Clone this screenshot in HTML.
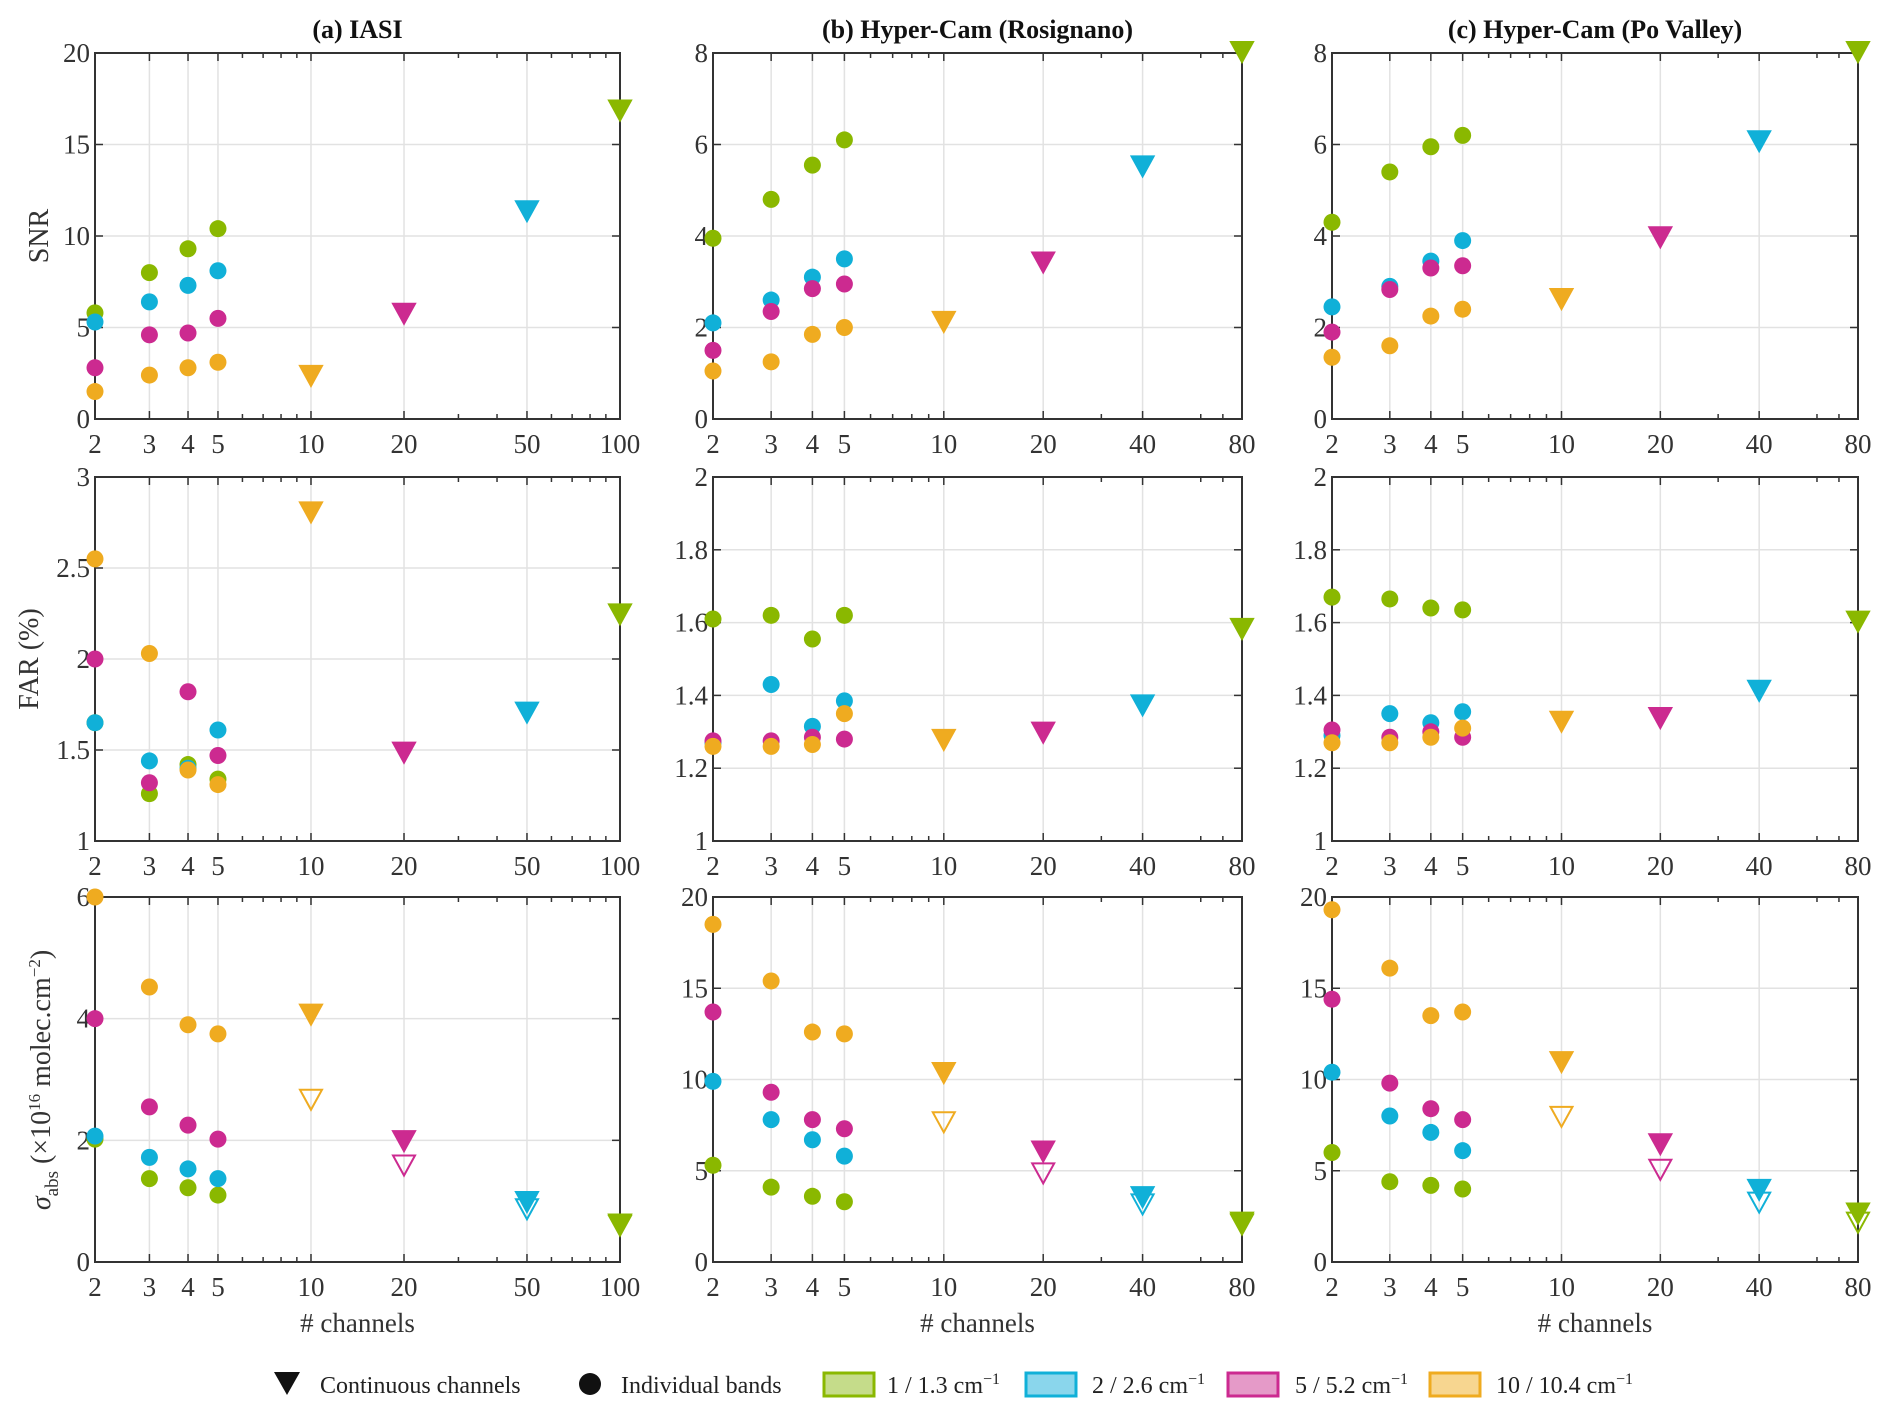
<!DOCTYPE html>
<html><head><meta charset="utf-8"><style>
html,body{margin:0;padding:0;background:#fff;}
svg{display:block;font-family:"Liberation Serif",serif;}
</style></head><body>
<svg id="fig" width="1892" height="1419" viewBox="0 0 1892 1419" xmlns="http://www.w3.org/2000/svg"></svg>
<script>
const NS="http://www.w3.org/2000/svg";
const colors=["#8ab800","#10b0d8","#cc2a90","#efab20"]; // green, cyan, magenta, orange
const bandX=[2,3,4,5];
const contXa=[100,50,20,10];
const contXbc=[80,40,20,10];
const snrA=[[5.8,8,9.3,10.4],[5.3,6.4,7.3,8.1],[2.8,4.6,4.7,5.5],[1.5,2.4,2.8,3.1]];
const snrAc=[16.8,11.3,5.7,2.3];
const snrB=[[3.95,4.8,5.55,6.1],[2.1,2.6,3.1,3.5],[1.5,2.35,2.85,2.95],[1.05,1.25,1.85,2.0]];
const snrBc=[8.0,5.5,3.4,2.1];
const snrC=[[4.3,5.4,5.95,6.2],[2.45,2.9,3.45,3.9],[1.9,2.83,3.3,3.35],[1.35,1.6,2.25,2.4]];
const snrCc=[8.0,6.05,3.95,2.6];
const farA=[[1.65,1.26,1.42,1.34],[1.65,1.44,1.4,1.61],[2.0,1.32,1.82,1.47],[2.55,2.03,1.39,1.31]];
const farAc=[2.24,1.7,1.48,2.8];
const farB=[[1.61,1.62,1.555,1.62],[1.27,1.43,1.315,1.385],[1.275,1.275,1.285,1.28],[1.26,1.26,1.265,1.35]];
const farBc=[1.58,1.37,1.295,1.275];
const farC=[[1.67,1.665,1.64,1.635],[1.29,1.35,1.325,1.355],[1.305,1.285,1.3,1.285],[1.27,1.27,1.285,1.31]];
const farCc=[1.6,1.41,1.335,1.325];
const sigA=[[2.02,1.37,1.22,1.1],[2.07,1.72,1.53,1.37],[4.0,2.55,2.25,2.02],[6.0,4.52,3.9,3.75]];
const sigAc=[0.6,0.97,1.97,4.05];
const sigAo=[0.58,0.85,1.57,2.65];
const sigB=[[5.3,4.1,3.6,3.3],[9.9,7.8,6.7,5.8],[13.7,9.3,7.8,7.3],[18.5,15.4,12.6,12.5]];
const sigBc=[2.1,3.5,6.0,10.3];
const sigBo=[2.0,3.1,4.8,7.6];
const sigC=[[6.0,4.4,4.2,4.0],[10.4,8.0,7.1,6.1],[14.4,9.8,8.4,7.8],[19.3,16.1,13.5,13.7]];
const sigCc=[2.6,3.9,6.4,10.9];
const sigCo=[2.1,3.2,5.0,7.9];
const ticksSnrA=[0,5,10,15,20], ticksSnrBC=[0,2,4,6,8];
const ticksFarA=[1,1.5,2,2.5,3], ticksFarBC=[1,1.2,1.4,1.6,1.8,2];
const ticksSigA=[0,2,4,6], ticksSigBC=[0,5,10,15,20];
const xTicksA=[2,3,4,5,10,20,50,100], xTicksBC=[2,3,4,5,10,20,40,80];
const titles=["(a) IASI","(b) Hyper-Cam (Rosignano)","(c) Hyper-Cam (Po Valley)"];

const svg=document.getElementById('fig');
function el(tag,attrs,parent){const e=document.createElementNS(NS,tag);for(const k in attrs)e.setAttribute(k,attrs[k]);(parent||svg).appendChild(e);return e;}
const cols=[[95,620],[713,1242],[1332,1858]];
const rows=[[53,419],[477,841],[897,1262]];

function panel(ci,ri,xmax,xt,yt,circ,cont,open,contX){
  const [x0,x1]=cols[ci],[y0,y1]=rows[ri];
  const ymin=yt[0],ymax=yt[yt.length-1];
  const X=v=>x0+(Math.log(v)-Math.log(2))/(Math.log(xmax)-Math.log(2))*(x1-x0);
  const Y=v=>y1-(v-ymin)/(ymax-ymin)*(y1-y0);
  const g=el('g',{});
  
  
  el('rect',{x:x0,y:y0,width:x1-x0,height:y1-y0,fill:'#fff'},g);
  xt.forEach(v=>{el('line',{x1:X(v),x2:X(v),y1:y0,y2:y1,stroke:'#e2e2e2','stroke-width':1.5},g);});
  yt.forEach(v=>{el('line',{x1:x0,x2:x1,y1:Y(v),y2:Y(v),stroke:'#e2e2e2','stroke-width':1.5},g);});
  const minors=[6,7,8,9,30,40,60,70,80,90].filter(v=>v<xmax&&xt.indexOf(v)<0);
  minors.forEach(v=>{el('line',{x1:X(v),x2:X(v),y1:y1,y2:y1-5,stroke:'#333','stroke-width':1.5},g);el('line',{x1:X(v),x2:X(v),y1:y0,y2:y0+5,stroke:'#333','stroke-width':1.5},g);});
  xt.forEach(v=>{el('line',{x1:X(v),x2:X(v),y1:y1,y2:y1-8,stroke:'#333','stroke-width':1.5},g);el('line',{x1:X(v),x2:X(v),y1:y0,y2:y0+8,stroke:'#333','stroke-width':1.5},g);
    const t=el('text',{x:X(v),y:y1+34,'text-anchor':'middle','font-size':27,fill:'#333'},g);t.textContent=v;
    });
  yt.forEach(v=>{el('line',{x1:x0,x2:x0+8,y1:Y(v),y2:Y(v),stroke:'#333','stroke-width':1.5},g);el('line',{x1:x1,x2:x1-8,y1:Y(v),y2:Y(v),stroke:'#333','stroke-width':1.5},g);
    const t=el('text',{x:x0-5,y:Y(v)+9,'text-anchor':'end','font-size':27,fill:'#333'},g);t.textContent=v;
    });
  el('rect',{x:x0,y:y0,width:x1-x0,height:y1-y0,fill:'none',stroke:'#333','stroke-width':2},g);
  for(let c=0;c<4;c++){
    for(let i=0;i<4;i++){
      const m=el('circle',{cx:X(bandX[i]),cy:Y(circ[c][i]),r:8.5,fill:colors[c]},g);
      
    }
  }
  for(let c=0;c<4;c++){
    const draw=(v,filled)=>{const cx=X(contX[c]),cy=Y(v);
      const p=el('polygon',{points:`${cx-11},${cy-11} ${cx+11},${cy-11} ${cx},${cy+9}`,fill:filled?colors[c]:'none',stroke:colors[c],'stroke-width':2},g);
      };
    draw(cont[c],true);
    if(open) draw(open[c],false);
  }
  if(ri===0){const t=el('text',{x:(x0+x1)/2,y:38,'text-anchor':'middle','font-size':26,'font-weight':'bold',fill:'#111'},g);t.textContent=titles[ci];
    }
  if(ri===2){const t=el('text',{x:(x0+x1)/2,y:1332,'text-anchor':'middle','font-size':27,fill:'#333'},g);t.textContent='# channels';
    }
}
panel(0,0,100,xTicksA,ticksSnrA,snrA,snrAc,null,contXa);
panel(1,0,80,xTicksBC,ticksSnrBC,snrB,snrBc,null,contXbc);
panel(2,0,80,xTicksBC,ticksSnrBC,snrC,snrCc,null,contXbc);
panel(0,1,100,xTicksA,ticksFarA,farA,farAc,null,contXa);
panel(1,1,80,xTicksBC,ticksFarBC,farB,farBc,null,contXbc);
panel(2,1,80,xTicksBC,ticksFarBC,farC,farCc,null,contXbc);
panel(0,2,100,xTicksA,ticksSigA,sigA,sigAc,sigAo,contXa);
panel(1,2,80,xTicksBC,ticksSigBC,sigB,sigBc,sigBo,contXbc);
panel(2,2,80,xTicksBC,ticksSigBC,sigC,sigCc,sigCo,contXbc);
</script>
<script>
(function(){
const svg=document.getElementById('fig');const NS="http://www.w3.org/2000/svg";
function el(tag,attrs,parent){const e=document.createElementNS(NS,tag);for(const k in attrs)e.setAttribute(k,attrs[k]);(parent||svg).appendChild(e);return e;}
let t=el('text',{x:48,y:236,'text-anchor':'middle','font-size':28,fill:'#333',transform:'rotate(-90 48 236)'});t.textContent='SNR';

t=el('text',{x:38,y:659,'text-anchor':'middle','font-size':28,fill:'#333',transform:'rotate(-90 38 659)'});t.textContent='FAR (%)';

t=el('text',{x:50,y:1080,'text-anchor':'middle','font-size':28,fill:'#333',transform:'rotate(-90 50 1080)'});
t.innerHTML='<tspan font-style="italic">σ</tspan><tspan font-size="19" dy="8">abs</tspan><tspan dy="-8"> (×10</tspan><tspan font-size="17" dy="-10">16</tspan><tspan dy="10"> molec.cm</tspan><tspan font-size="17" dy="-10">−2</tspan><tspan dy="10">)</tspan>';

const lg=el('g',{});
let p=el('polygon',{points:'274,1372 300,1372 287,1395',fill:'#111'},lg);
t=el('text',{x:320,y:1393,'font-size':24,fill:'#222'},lg);t.textContent='Continuous channels';
p=el('circle',{cx:590,cy:1384,r:11,fill:'#111'},lg);
t=el('text',{x:621,y:1393,'font-size':24,fill:'#222'},lg);t.textContent='Individual bands';
const items=[[824,887,'#8ab800','#c5dc8a','1 / 1.3 cm'],[1026,1092,'#10b0d8','#8ad6ec','2 / 2.6 cm'],[1228,1295,'#cc2a90','#e59ac8','5 / 5.2 cm'],[1430,1496,'#efab20','#f7d690','10 / 10.4 cm']];
items.forEach(it=>{const r=el('rect',{x:it[0],y:1373,width:50,height:23,fill:it[3],stroke:it[2],'stroke-width':3},lg);

const tx=el('text',{x:it[1],y:1393,'font-size':24,fill:'#222'},lg);tx.innerHTML=it[4]+'<tspan font-size="16" dy="-9">−1</tspan>';
});
})();
</script>
</body></html>
